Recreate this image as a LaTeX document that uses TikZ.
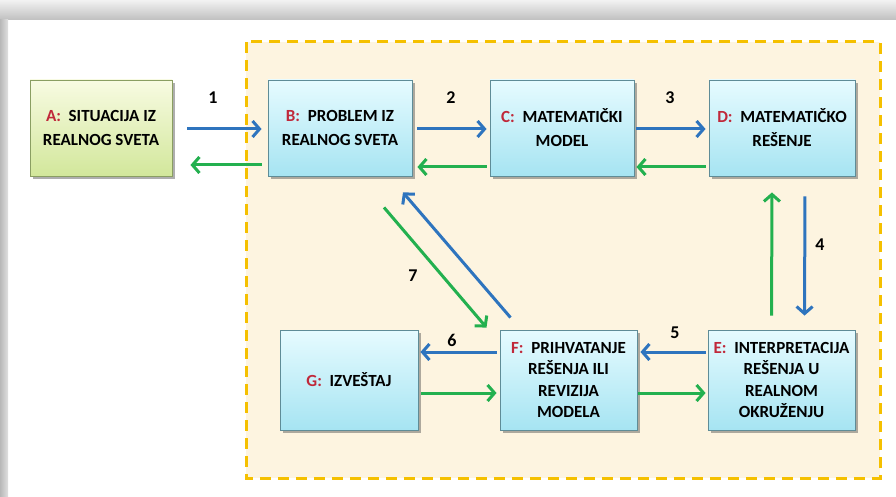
\documentclass[tikz,border=0pt]{standalone}
\usepackage{fontspec}
\setmainfont{Carlito}
\usetikzlibrary{arrows.meta,shadows,calc}
\definecolor{lblred}{HTML}{C0283A}
\definecolor{flowblue}{HTML}{2E74BE}
\definecolor{flowgreen}{HTML}{23B04F}
\definecolor{dashgold}{HTML}{F5C000}
\definecolor{cream}{HTML}{FDF4E0}
\definecolor{cyantop}{HTML}{E6FBFF}
\definecolor{cyanbot}{HTML}{A6E4F2}
\definecolor{cyanedge}{HTML}{5F8C97}
\definecolor{limetop}{HTML}{F8FBE2}
\definecolor{limebot}{HTML}{D2E79B}
\definecolor{limeedge}{HTML}{8A9E62}
\tikzset{
  stagebox/.style={draw=cyanedge, line width=0.9pt, top color=cyantop, bottom color=cyanbot,
    drop shadow={shadow xshift=2.5pt, shadow yshift=-3pt, opacity=0.45, fill=black!70},
    align=center, inner sep=2pt, font=\fontsize{17}{24}\selectfont\bfseries},
  worldbox/.style={stagebox, draw=limeedge, top color=limetop, bottom color=limebot},
  tallbox/.style={stagebox, font=\fontsize{17}{21.5}\selectfont\bfseries},
  fwd/.style={draw=flowblue, line width=3pt, -{Straight Barb[length=7pt,width=16pt]}},
  back/.style={draw=flowgreen, line width=3pt, -{Straight Barb[length=7pt,width=16pt]}},
  steplabel/.style={font=\fontsize{18}{18}\selectfont\bfseries, inner sep=0pt}
}
\begin{document}
\begin{tikzpicture}[x=1pt,y=-1pt]
\useasboundingbox (0,0) rectangle (896,497);
% framed page with its grey rim
\fill[white] (0,0) rectangle (896,497);
\shade[top color=black!5, bottom color=black!25] (0,0) rectangle (896,20);
\shade[left color=black!28, right color=black!12] (0,20) rectangle (8,497);
% modelling region
\fill[cream] (246,42) rectangle (880,478);
\draw[dashgold, line width=3pt, dash pattern=on 11pt off 7pt] (246,42) rectangle (880,478);

% stages
\node[worldbox, minimum width=142pt, minimum height=96pt] (A) at (101,128)
  {\textcolor{lblred}{A:}\ \ SITUACIJA IZ\\REALNOG SVETA};
\node[stagebox, minimum width=144pt, minimum height=96pt] (B) at (340,128)
  {\textcolor{lblred}{B:}\ \ PROBLEM IZ\\REALNOG SVETA};
\node[stagebox, minimum width=144pt, minimum height=96pt] (C) at (562,128)
  {\textcolor{lblred}{C:}\ \ MATEMATIČKI\\MODEL};
\node[stagebox, minimum width=146pt, minimum height=96pt] (D) at (782,128)
  {\textcolor{lblred}{D:}\ \ MATEMATIČKO\\REŠENJE};
\node[tallbox, minimum width=147pt, minimum height=100pt] (E) at (781.5,380)
  {\textcolor{lblred}{E:}\ \ INTERPRETACIJA\\REŠENJA U\\REALNOM\\OKRUŽENJU};
\node[tallbox, minimum width=137pt, minimum height=100pt] (F) at (568.5,380)
  {\textcolor{lblred}{F:}\ \ PRIHVATANJE\\REŠENJA ILI\\REVIZIJA\\MODELA};
\node[stagebox, minimum width=138pt, minimum height=100pt] (G) at (349,380)
  {\textcolor{lblred}{G:}\ \ IZVEŠTAJ};

% forward (blue) and backward (green) flows
\draw[fwd, shorten <=15pt, shorten >=6pt] ([yshift=-1pt]A.east) -- ([yshift=-1pt]B.west);
\draw[back, shorten <=6pt, shorten >=18pt] ([yshift=-37pt]B.west) -- ([yshift=-37pt]A.east);
\draw[fwd, shorten <=5pt, shorten >=3pt] ([yshift=-1pt]B.east) -- ([yshift=-1pt]C.west);
\draw[back, shorten <=3pt, shorten >=5pt] ([yshift=-39pt]C.west) -- ([yshift=-39pt]B.east);
\draw[fwd, shorten <=2pt, shorten >=3pt] ([yshift=-1pt]C.east) -- ([yshift=-1pt]D.west);
\draw[back, shorten <=3pt, shorten >=2pt] ([yshift=-39pt]D.west) -- ([yshift=-39pt]C.east);
\draw[fwd, shorten <=20pt, shorten >=14pt] ([xshift=23pt]D.south) -- ([xshift=23pt]E.north);
\draw[back, shorten <=14pt, shorten >=16pt] ([xshift=-10pt]E.north) -- ([xshift=-10pt]D.south);
\draw[fwd, shorten <=2pt, shorten >=3pt] ([yshift=28pt]E.west) -- ([yshift=28pt]F.east);
\draw[back, shorten <=1pt, shorten >=2pt] ([yshift=-13pt]F.east) -- ([yshift=-13pt]E.west);
\draw[fwd, shorten <=3pt, shorten >=2pt] ([yshift=28pt]F.west) -- ([yshift=28pt]G.east);
\draw[back, shorten <=3pt, shorten >=3pt] ([yshift=-13pt]G.east) -- ([yshift=-13pt]F.west);
\draw[back] ($(B.south)+(44,31)$) -- ($(F.north)+(-82,-2)$);
\draw[fwd] ($(F.north)+(-58,-12)$) -- ($(B.south)+(63,16)$);

% step numbers
\node[steplabel] (n1) at (213,98) {1};
\node[steplabel] (n2) at (451,98) {2};
\node[steplabel] (n3) at (670,98) {3};
\node[steplabel] (n4) at (820,245) {4};
\node[steplabel] (n5) at (675,333) {5};
\node[steplabel] (n6) at (452,340) {6};
\node[steplabel] (n7) at (413,276) {7};
\end{tikzpicture}
\end{document}
